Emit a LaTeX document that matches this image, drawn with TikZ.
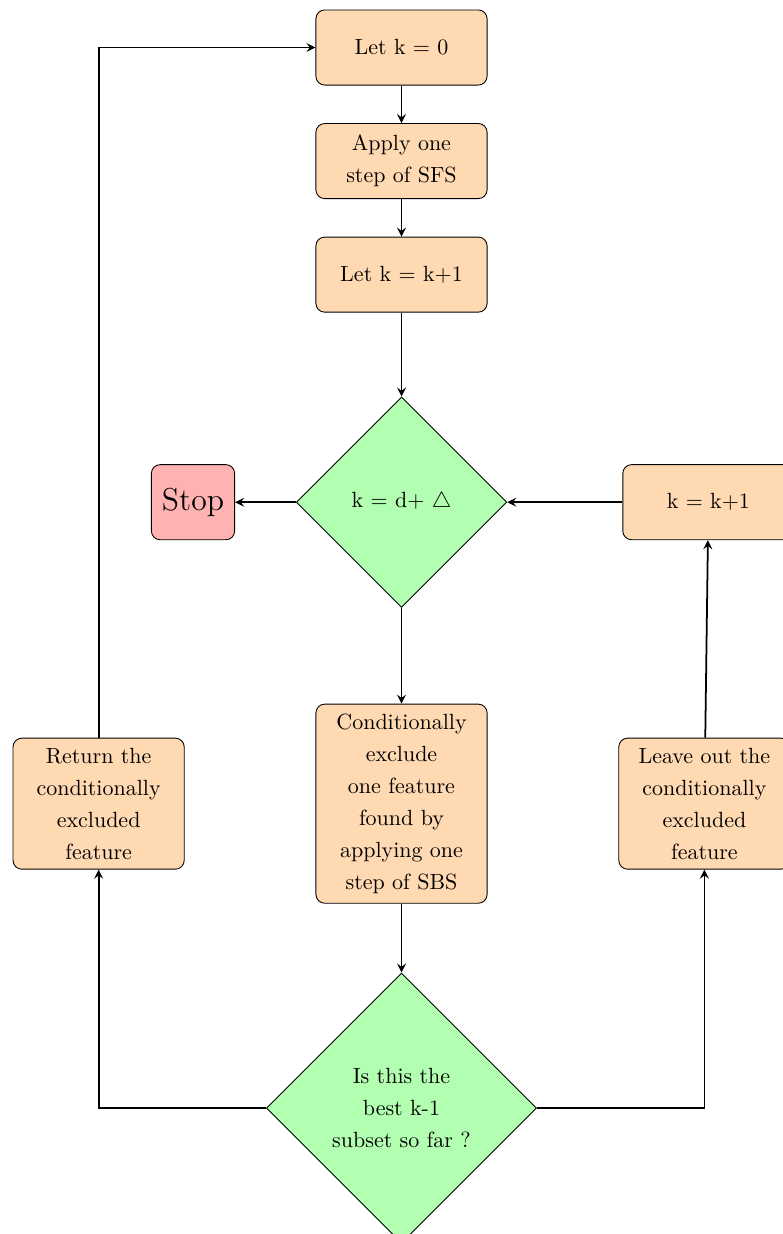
\documentclass[tikz,border=0pt]{standalone}
\usepackage{tikz}
\usetikzlibrary{arrows.meta,positioning,shapes.geometric}
\usepackage{xcolor}
\usepackage{amsmath}

\begin{document}
\begin{tikzpicture}[
  font=\fontsize{10}{14.5}\selectfont,
  box/.style={draw, rounded corners, fill=orange!30, text width=2.5cm, align=center, inner ysep=4.5pt, minimum height=1.2cm},
  dec/.style={diamond, draw, fill=green!30, text width=2.5cm, align=center, inner ysep=4.5pt},
  stopbox/.style={draw, rounded corners, fill=red!30, align=center, minimum height=1.2cm, minimum width=1.33cm, font=\Large},
  arr/.style={->, >=stealth, thick}
]
\useasboundingbox (-6.414,-18.954) rectangle (6.094,0.759);
\node[box] (init) {Let k = 0};
\node[box, below=0.6cm of init] (sfs) {Apply one step of SFS};
\node[box, below=0.6cm of sfs] (inc) {Let k = k+1};
\node[dec, below=1.34cm of inc] (test) {k = d+ $\triangle$};
\node[stopbox, left=0.97cm of test] (stop) {Stop};
\node[box, right=1.84cm of test] (incr) {k = k+1};
\node[box, below=1.53cm of test] (excl) {Conditionally\\exclude\\one feature\\found by\\applying one\\step of SBS};
\node[box, left=2.09cm of excl] (ret) {Return the conditionally excluded feature};
\node[box, right=2.09cm of excl] (leave) {Leave out the conditionally excluded feature};
\node[dec, below=1.1cm of excl] (best) {Is this the best k-1 subset so far ?};
\draw[arr] (init) -- (sfs);
\draw[arr] (sfs) -- (inc);
\draw[arr] (inc) -- (test);
\draw[arr] (test) -- (stop);
\draw[arr] (incr) -- (test);
\draw[arr] (test) -- (excl);
\draw[arr] (excl) -- (best);
\draw[arr] (best) -| (ret);
\draw[arr] (best) -| (leave);
\draw[arr] (ret) |- (init);
\draw[arr] (leave) -- (incr);
\end{tikzpicture}
\end{document}
